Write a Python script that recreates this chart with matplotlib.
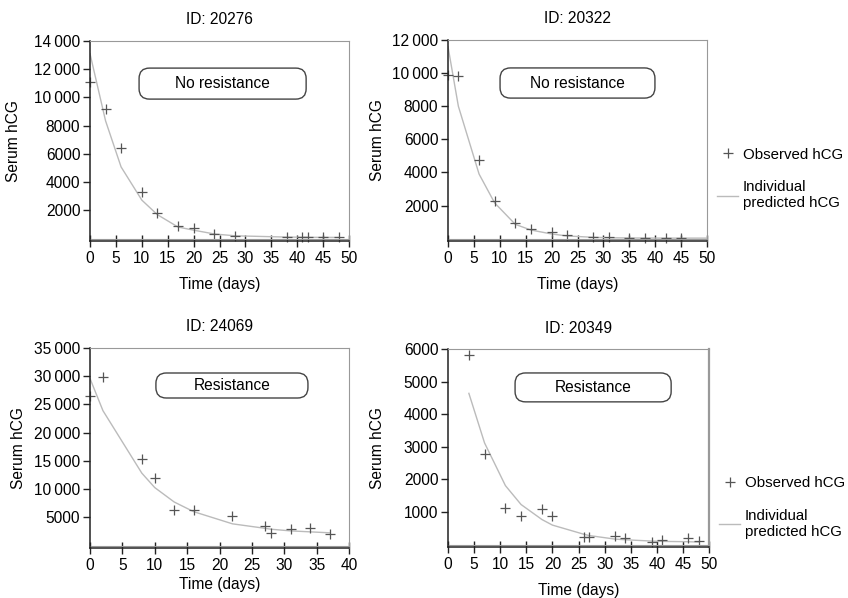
import matplotlib.pyplot as plt
from matplotlib.patches import FancyBboxPatch
from matplotlib.ticker import FuncFormatter

plt.rcParams['font.family'] = ['Liberation Sans', 'DejaVu Sans']
plt.rcParams['font.size'] = 11.2

# --- data ---
ids = ["20276", "20322", "24069", "20349"]
labels = ["No resistance", "No resistance", "Resistance", "Resistance"]

t1 = [0, 3, 6, 10, 13, 17, 20, 24, 28, 38, 41, 42, 45, 48]
obs1 = [11100, 9200, 6450, 3330, 1800, 880, 750, 350, 200, 150, 100, 150, 100, 100]
tp1 = [0, 3, 6, 10, 13, 17, 20, 24, 28, 38, 41, 42, 45, 48]
pred1 = [13100, 8350, 5080, 2730, 1700, 820, 600, 330, 200, 110, 100, 95, 90, 85]

t2 = [0, 2, 6, 9, 13, 16, 20, 23, 28, 31, 35, 38, 42, 45]
obs2 = [9900, 9850, 4720, 2250, 950, 600, 380, 200, 80, 100, 50, 60, 40, 40]
tp2 = [0, 2, 6, 9, 13, 16, 20, 23, 28, 31, 35, 38, 42, 45, 50]
pred2 = [11600, 8000, 3900, 2160, 860, 520, 280, 160, 80, 55, 40, 35, 30, 30, 30]

t3 = [0, 2, 8, 10, 13, 16, 22, 27, 28, 31, 34, 37]
obs3 = [26500, 29800, 15300, 12000, 6300, 6300, 5170, 3470, 2220, 3010, 3180, 2050]
tp3 = [0, 2, 8, 10, 13, 16, 22, 27, 28, 31, 34, 37]
pred3 = [29600, 23900, 12840, 10280, 7730, 6020, 3860, 3070, 2900, 2610, 2440, 2270]

t4 = [4, 7, 11, 14, 18, 20, 26, 27, 32, 34, 39, 41, 46, 48]
obs4 = [5830, 2770, 1130, 890, 1090, 890, 240, 220, 260, 190, 90, 130, 190, 120]
tp4 = [4, 7, 11, 14, 18, 20, 26, 27, 32, 34, 39, 41, 46, 48]
pred4 = [4640, 3120, 1810, 1230, 770, 600, 320, 280, 170, 150, 110, 100, 90, 80]

obs_t = [t1, t2, t3, t4]
obs_v = [obs1, obs2, obs3, obs4]
pred_t = [tp1, tp2, tp3, tp4]
pred_v = [pred1, pred2, pred3, pred4]

xmax = [50, 50, 40, 50]
ymax = [14000, 12000, 35000, 6000]
ystep = [2000, 2000, 5000, 1000]

# --- layout (pixel boxes -> figure fractions) ---
W, H = 848, 598
boxes = [(90, 349, 41, 241), (448, 707, 40, 241), (90, 349, 348, 548), (448, 709, 349, 547)]
ylab_x = [-0.266, -0.243, -0.247, -0.243]
xlab_y = [-0.18, -0.18, -0.145, -0.18]
tbox = [(0.512, 0.787, 0.645, 0.155), (0.50, 0.786, 0.598, 0.15),
        (0.548, 0.8125, 0.587, 0.125), (0.556, 0.806, 0.598, 0.146)]
leg_y = [None, 0.465, None, 0.358]


def fmt(v, pos):
    v = int(round(v))
    if v >= 10000:
        s = str(v)
        return s[:-3] + "\u2009" + s[-3:]
    return str(v)


fig = plt.figure(figsize=(W / 100, H / 100), dpi=100)

for i in range(4):
    l, r, t, b = boxes[i]
    ax = fig.add_axes([l / W, 1 - b / H, (r - l) / W, (b - t) / H])

    ax.plot(pred_t[i], pred_v[i], color='#bbbbbb', lw=1.0, label='Individual\npredicted hCG')
    ax.plot(obs_t[i], obs_v[i], ls='none', marker='+', ms=7, mew=0.9, color='#555555',
            label='Observed hCG', clip_on=False)

    ax.set_xlim(0, xmax[i])
    ax.set_ylim(-ymax[i] * 0.012, ymax[i])
    ax.axhline(0, color='#999999', lw=0.8)

    ax.set_xticks(range(0, xmax[i] + 1, 5))
    ax.set_yticks(range(ystep[i], ymax[i] + 1, ystep[i]))
    ax.yaxis.set_major_formatter(FuncFormatter(fmt))
    ax.tick_params(axis='x', direction='inout', length=8, width=1, color='#222222', pad=3)
    ax.tick_params(axis='y', direction='out', length=5, width=1, color='#222222', pad=2)

    for s in ['top', 'right']:
        ax.spines[s].set_color('#999999')
        ax.spines[s].set_linewidth(0.8)
    ax.spines['right'].set_linewidth(1.6 if i == 3 else 0.8)
    for s in ['left', 'bottom']:
        ax.spines[s].set_color('#222222')
        ax.spines[s].set_linewidth(1.1)

    ax.text(0.5, 1.105, "ID: " + ids[i], transform=ax.transAxes, ha='center', va='center')
    ax.set_xlabel("Time (days)")
    ax.xaxis.set_label_coords(0.5, xlab_y[i])
    ax.set_ylabel("Serum hCG")
    ax.yaxis.set_label_coords(ylab_x[i], 0.5)

    cx, cy, bw, bh = tbox[i]
    patch = FancyBboxPatch((cx - bw / 2, cy - bh / 2), bw, bh, transform=ax.transAxes,
                           boxstyle="round,pad=0,rounding_size=0.04", mutation_aspect=1.3,
                           fc='white', ec='#444444', lw=1.0)
    ax.add_patch(patch)
    ax.text(cx, cy, labels[i], transform=ax.transAxes, ha='center', va='center')

    if leg_y[i] is not None:
        h, lb = ax.get_legend_handles_labels()
        ax.legend([h[1], h[0]], [lb[1], lb[0]], loc='upper left',
                  bbox_to_anchor=(1.04, leg_y[i]), fontsize=10.8,
                  frameon=False, handlelength=1.4, handletextpad=0.3,
                  labelspacing=1.25, borderpad=0, borderaxespad=0)

fig.savefig("out.png", dpi=100)
